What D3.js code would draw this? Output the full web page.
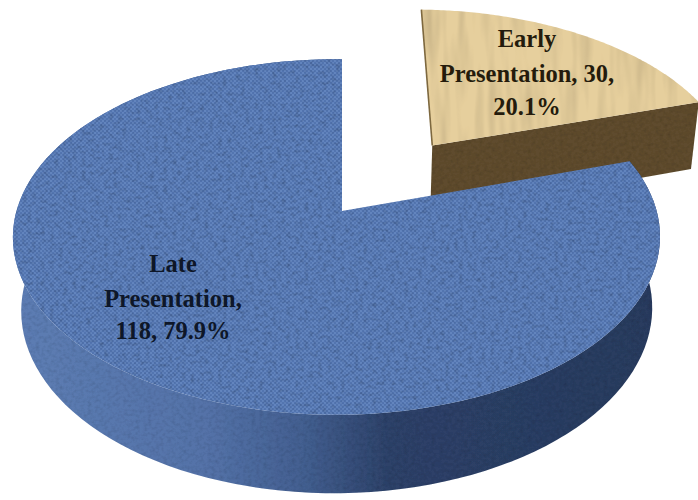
<!DOCTYPE html>
<html>
<head>
<meta charset="utf-8">
<script src="https://cdn.jsdelivr.net/npm/d3@7/dist/d3.min.js"></script>
<style>
  html, body { margin: 0; padding: 0; background: #fff; }
  svg { display: block; }
  text { font-family: "Liberation Serif", serif; font-weight: 700; text-anchor: middle; }
</style>
</head>
<body>
<script>
// Presentation timing: counts and shares
const categories = ["Early Presentation", "Late Presentation"];
const counts = [30, 118];
const shares = [20.1, 79.9];
const labelLines = [
  ["Early", "Presentation, 30,", "20.1%"],
  ["Late", "Presentation,", "118, 79.9%"]
];

const width = 698, height = 500;

// Perspective camera for the tilted disc
const cam = { cx: 342, cy: 211, rx: 320, ry: 174, k: 0.146, m: -0.017, depth: 74, sink: 0.025 };
const explode = [{ u: 0.30, v: -0.40 }, { u: 0, v: 0 }];

function project(u, v, z) {
  const w = 1 - cam.k * v - cam.m * u + cam.sink * z;
  return [cam.cx + cam.rx * u / w, cam.cy + (cam.ry * v + cam.depth * z) / w];
}
const onDisc = (angle, off, r = 1, z = 0) =>
  project(off.u + r * Math.sin(angle), off.v - r * Math.cos(angle), z);

const slices = d3.pie().sort(null)(shares);
const arcAngles = s => d3.range(0, 121).map(i => s.startAngle + (s.endAngle - s.startAngle) * i / 120);
const line = d3.line();

const svg = d3.select("body").append("svg").attr("width", width).attr("height", height);
const defs = svg.append("defs");

// Woven cloth for the blue slice, wood grain for the tan one
function weave(id, cell, dark, light) {
  const p = defs.append("pattern").attr("id", id).attr("patternUnits", "userSpaceOnUse")
    .attr("width", cell * 2).attr("height", cell * 2);
  [[0, 0, dark], [cell, cell, dark], [cell, 0, light], [0, cell, light]].forEach(([x, y, c]) =>
    p.append("rect").attr("x", x).attr("y", y).attr("width", cell).attr("height", cell).attr("fill", c));
}
weave("cloth", 2, "rgba(40,70,125,0.16)", "rgba(150,180,225,0.12)");

function grain(id, freq, amount, seed) {
  const f = defs.append("filter").attr("id", id).attr("x", 0).attr("y", 0).attr("width", 1).attr("height", 1);
  f.append("feTurbulence").attr("type", "fractalNoise").attr("baseFrequency", freq)
    .attr("numOctaves", 2).attr("seed", seed).attr("result", "n");
  f.append("feColorMatrix").attr("in", "n").attr("type", "matrix")
    .attr("values", `0 0 0 0 0  0 0 0 0 0  0 0 0 0 0  ${amount} 0 0 0 ${-amount * 0.42}`).attr("result", "shade");
  f.append("feComposite").attr("in", "shade").attr("in2", "SourceAlpha").attr("operator", "in").attr("result", "clip");
  const m = f.append("feMerge");
  m.append("feMergeNode").attr("in", "SourceGraphic");
  m.append("feMergeNode").attr("in", "clip");
}
grain("blueGrain", "0.22 0.28", 0.9, 4);
grain("sideGrain", "0.25 0.3", 0.45, 9);
grain("tanGrain", "0.09 0.012", 0.55, 7);

// Rim shading falls off from the lit left to the dark right
const rim = defs.append("linearGradient").attr("id", "rimBlue").attr("gradientUnits", "userSpaceOnUse")
  .attr("x1", 13).attr("x2", 660).attr("y1", 0).attr("y2", 0);
[[0, "#5d7db3"], [0.3, "#5472a8"], [0.45, "#435f90"], [0.58, "#2e4269"], [1, "#2a3b5e"]].forEach(([o, c]) =>
  rim.append("stop").attr("offset", o).attr("stop-color", c));

const [early, late] = slices;
const earlyOff = explode[0], lateOff = explode[1];

// Exploded slice: cut face first, then its top
const apexTop = project(earlyOff.u, earlyOff.v, 0);
const apexBottom = project(earlyOff.u, earlyOff.v, 1);
svg.append("path")
  .attr("d", line([apexTop, onDisc(early.endAngle, earlyOff), onDisc(early.endAngle, earlyOff, 1, 1), apexBottom]) + "Z")
  .attr("fill", "#5f4c2e").attr("filter", "url(#sideGrain)");

const wedge = (s, off) => line([project(off.u, off.v, 0), ...arcAngles(s).map(a => onDisc(a, off))]) + "Z";
svg.append("path").attr("d", wedge(early, earlyOff)).attr("fill", "#e6cf9d").attr("filter", "url(#tanGrain)");
svg.append("path")
  .attr("d", line([apexTop, onDisc(early.startAngle, earlyOff)]))
  .attr("stroke", "#7d683f").attr("stroke-width", 1.6).attr("fill", "none");

// Large slice: outer rim, then its top
const lateArc = arcAngles(late);
svg.append("path")
  .attr("d", line([...lateArc.map(a => onDisc(a, lateOff)), ...lateArc.slice().reverse().map(a => onDisc(a, lateOff, 1, 1))]) + "Z")
  .attr("fill", "url(#rimBlue)").attr("filter", "url(#sideGrain)");
svg.append("path").attr("d", wedge(late, lateOff)).attr("fill", "#5c7eba").attr("filter", "url(#blueGrain)");
svg.append("path").attr("d", wedge(late, lateOff)).attr("fill", "url(#cloth)");

// Data labels
const labelAnchors = [
  { x: 527, y: [47, 82, 115], fill: "#241b0c" },
  { x: 173, y: [272, 307, 339], fill: "#0e1728" }
];
labelLines.forEach((lines, i) => {
  const t = svg.append("text").attr("font-size", 24.5).attr("fill", labelAnchors[i].fill);
  lines.forEach((s, j) => t.append("tspan").attr("x", labelAnchors[i].x).attr("y", labelAnchors[i].y[j]).text(s));
});
</script>
</body>
</html>
